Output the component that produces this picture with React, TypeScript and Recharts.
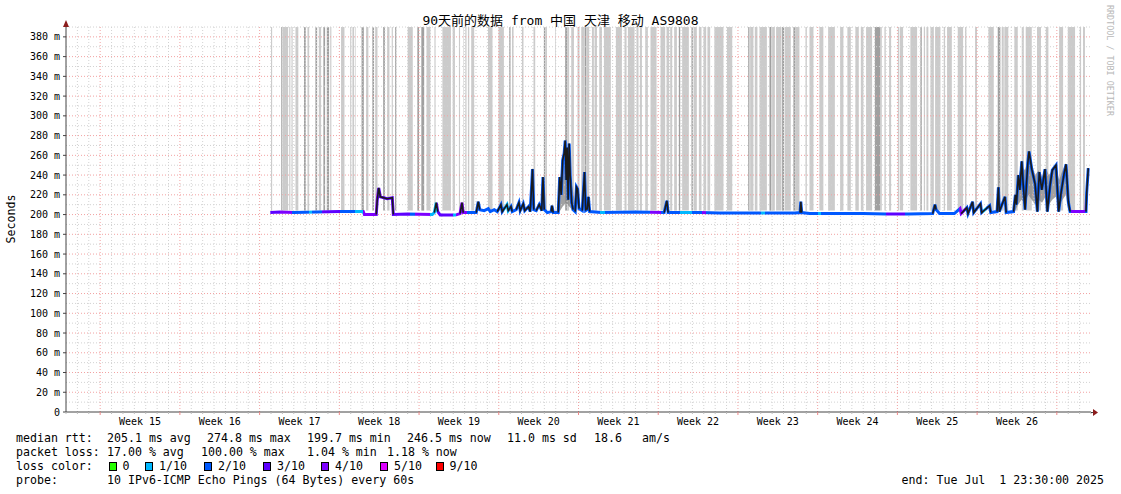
import React from 'react';
import { ComposedChart, Line, Area, XAxis, YAxis, ReferenceLine, ReferenceArea } from 'recharts';

// ---------- data ----------
const TITLE = '90天前的数据 from 中国 天津 移动 AS9808';
const weekLabels = ['Week 15', 'Week 16', 'Week 17', 'Week 18', 'Week 19', 'Week 20', 'Week 21', 'Week 22', 'Week 23', 'Week 24', 'Week 25', 'Week 26'];
const weekStarts = [3, 10, 17, 24, 31, 38, 45, 52, 59, 66, 73, 80, 87];
const yTicks = [0, 20, 40, 60, 80, 100, 120, 140, 160, 180, 200, 220, 240, 260, 280, 300, 320, 340, 360, 380];
const yMinorGrid = [10, 30, 50, 70, 90, 110, 130, 150, 170, 190, 210, 230, 250, 270, 290, 310, 330, 350, 370, 390];

// median rtt (day since start, ms)
const medianPoints: [number, number][] = [
  [17.94, 202], [18.8, 202.5], [20, 202], [22, 202.5], [24, 203], [26.1, 203], [26.2, 200], [27.24, 200],
  [27.33, 215], [27.46, 227], [27.6, 218], [28.2, 216], [28.65, 217], [28.74, 200], [30, 200.5], [32.16, 200],
  [32.34, 202], [32.51, 212], [32.64, 203], [32.86, 199.5], [34.18, 199.5], [34.6, 201], [34.77, 212], [34.88, 202],
  [36.02, 202], [36.2, 213], [36.33, 205], [36.72, 204], [37.08, 206], [37.25, 203], [37.6, 205], [37.87, 203],
  [38.19, 210], [38.3, 203], [38.72, 210], [38.83, 204], [39.07, 208], [39.18, 203], [39.53, 205], [39.77, 212],
  [39.88, 204], [40.15, 211], [40.28, 204], [40.61, 208], [40.76, 203], [40.89, 230], [40.96, 246], [41.07, 205],
  [41.29, 204], [41.55, 210], [41.77, 204], [41.88, 238], [41.99, 205], [42.26, 202], [42.6, 203], [42.67, 209],
  [42.78, 202], [43.22, 202], [43.35, 238], [43.48, 220], [43.61, 255], [43.74, 262], [43.83, 275], [43.92, 235],
  [44.0, 268], [44.09, 215], [44.18, 272], [44.27, 240], [44.4, 212], [44.53, 205], [44.71, 203], [44.82, 228],
  [44.92, 226], [45.05, 206], [45.33, 204], [45.53, 243], [45.63, 204], [45.76, 205], [45.87, 218], [45.98, 203],
  [47, 202], [50, 202.5], [52.52, 202], [52.76, 214], [52.87, 202], [55.7, 202], [57.4, 201.5], [64.0, 201.5],
  [64.45, 202], [64.52, 213], [64.6, 202], [65.3, 201], [70, 201], [72, 200.5], [74, 200.5], [76.1, 201],
  [76.3, 210], [76.4, 205], [76.7, 201], [78.0, 201], [78.5, 206], [78.6, 201], [79.1, 207], [79.2, 201],
  [79.6, 213], [79.7, 202], [80.3, 211], [80.4, 202], [81.1, 209], [81.2, 202], [81.75, 203], [81.87, 227.6],
  [81.95, 203], [82.45, 218], [82.55, 202], [83.2, 203], [83.36, 220], [83.45, 210], [83.62, 240], [83.75, 225],
  [83.92, 254], [84.05, 230], [84.21, 205], [84.33, 230], [84.45, 252], [84.56, 264], [84.8, 246], [85.09, 231],
  [85.29, 203], [85.46, 243], [85.68, 225], [85.96, 246], [86.17, 203], [86.4, 229], [86.6, 245], [86.93, 250],
  [87.16, 203], [87.37, 222], [87.63, 241], [87.81, 251], [88.01, 213], [88.16, 203], [89.56, 203], [89.62, 222],
  [89.76, 247],
];

// smoke (day, low, high)
const smokeA: [number, number, number][] = [
  [43.2, 202, 203], [43.4, 204, 238], [43.6, 208, 250], [43.9, 212, 255], [44.2, 208, 245], [44.5, 204, 225], [44.8, 202, 204],
];
const smokeB: [number, number, number][] = [
  [83.2, 203, 205], [83.3, 203, 212], [83.6, 210, 238], [83.9, 215, 250], [84.2, 212, 245], [84.5, 220, 258],
  [84.8, 215, 250], [85.1, 210, 240], [85.4, 215, 245], [85.7, 212, 238], [86.0, 218, 248], [86.3, 210, 240],
  [86.6, 215, 245], [86.9, 218, 250], [87.2, 210, 235], [87.5, 215, 245], [87.8, 220, 252], [88.0, 205, 225], [88.2, 202, 204],
];

// full-height loss smoke bars (start day, end day, shade 0 light / 1 dark)
const grayBars: [number, number, number][] = [
  [18.0, 18.1, 0], [18.9, 19.0, 1], [19.05, 19.5, 0], [19.6, 19.7, 0], [19.8, 19.9, 0], [20.15, 20.4, 0], [20.9, 21.05, 1],
  [21.2, 21.35, 0], [21.9, 22.05, 1], [22.2, 22.4, 0], [22.6, 22.75, 1], [22.9, 23.1, 1], [23.2, 23.3, 0], [24.15, 24.45, 0],
  [24.95, 25.05, 0], [25.15, 25.3, 0], [25.4, 25.45, 0], [25.95, 26.15, 1], [26.35, 26.55, 0], [26.9, 27.05, 1],
  [27.15, 27.35, 0], [27.85, 28.0, 1], [28.2, 28.4, 0], [28.6, 28.7, 0], [28.9, 29.0, 1], [30.0, 30.45, 0], [30.85, 31.0, 1],
  [31.2, 31.45, 1], [31.65, 32.0, 0], [32.35, 32.45, 0], [33.05, 33.8, 0], [33.95, 34.15, 0], [34.5, 34.6, 0], [34.9, 34.95, 0],
  [35.06, 35.17, 0], [35.29, 35.41, 0], [35.58, 35.84, 0], [37.05, 37.45, 0], [37.98, 38.45, 0], [38.92, 39.03, 1],
  [39.16, 39.3, 0], [40.03, 40.17, 0], [41.05, 41.2, 0], [41.96, 42.08, 1], [42.08, 42.23, 0], [42.96, 43.02, 0],
  [43.83, 44.01, 1], [44.01, 44.18, 0], [44.36, 44.6, 0], [44.91, 45.09, 0], [45.24, 45.48, 0], [45.53, 45.7, 1],
  [45.74, 45.94, 0], [46.18, 46.35, 0], [46.41, 46.62, 0], [46.82, 47.06, 0], [47.23, 47.84, 0], [48.28, 48.81, 0],
  [49.04, 49.22, 0], [49.34, 49.92, 0], [50.09, 50.27, 0], [50.39, 50.57, 0], [50.86, 51.09, 0], [51.32, 51.85, 0],
  [52.2, 52.61, 0], [52.73, 52.96, 0], [53.05, 53.23, 0], [53.4, 53.64, 0], [53.81, 53.93, 1], [54.1, 54.69, 0],
  [54.92, 55.04, 1], [55.1, 55.39, 0], [55.57, 55.8, 0], [55.97, 56.21, 0], [56.32, 56.56, 0], [56.93, 57.73, 0],
  [58.03, 58.5, 0], [59.9, 60.01, 1], [60.07, 60.36, 0], [60.48, 60.71, 0], [60.89, 61.54, 0], [61.77, 61.94, 1],
  [62.0, 62.24, 0], [62.35, 62.82, 0], [62.88, 63.06, 1], [63.12, 63.64, 0], [63.87, 64.05, 1], [64.05, 64.4, 0],
  [64.93, 65.05, 0], [65.28, 65.63, 0], [66.15, 66.5, 0], [66.92, 67.51, 0], [67.97, 68.26, 0], [68.61, 68.91, 0],
  [69.31, 69.61, 0], [69.79, 70.02, 0], [70.25, 70.78, 0], [71.02, 71.48, 1], [71.48, 71.63, 0], [71.86, 71.98, 0],
  [72.27, 72.45, 0], [73.04, 73.15, 0], [73.21, 73.5, 0], [74.14, 74.73, 0], [75.02, 75.14, 1], [75.32, 75.43, 0],
  [75.55, 75.72, 0], [75.9, 76.2, 0], [76.31, 76.78, 0], [77.07, 77.19, 0], [77.36, 77.78, 0], [78.3, 78.77, 0],
  [78.94, 79.06, 0], [79.82, 79.99, 0], [80.99, 81.46, 0], [81.81, 82.04, 1], [82.16, 82.34, 0], [82.39, 82.74, 0],
  [83.27, 83.57, 0], [83.92, 84.1, 0], [84.27, 84.8, 0], [85.26, 85.61, 0], [86.03, 86.26, 0], [87.2, 87.55, 0],
  [87.96, 88.6, 0], [89.01, 89.13, 0], [89.3, 89.47, 0],
];

const lossColors = ['#26ff00', '#00b8ff', '#0059ff', '#5e00ff', '#7e00ff', '#dd00ff', '#ff0000'];
const lossLabels = ['0', '1/10', '2/10', '3/10', '4/10', '5/10', '9/10'];
// loss level along the median line (start day, index in lossColors)
const lossSegments: [number, number][] = [
  [17.9, 3], [18.8, 4], [19.87, 2], [21.3, 1], [21.6, 2], [22.5, 3], [24.1, 2], [25.4, 1], [26.1, 4], [27.3, 3],
  [28.65, 3], [30.2, 2], [30.6, 4], [32.0, 1], [32.6, 3], [34.0, 1], [34.2, 4], [35.2, 2], [36.4, 2], [38.5, 1],
  [38.9, 2], [43.4, 2], [46.0, 2], [46.9, 1], [47.3, 2], [51.3, 4], [52.2, 2], [53.9, 1], [55.0, 2], [55.8, 4],
  [56.2, 2], [61.0, 1], [61.4, 2], [66.0, 1], [66.3, 2], [72.0, 3], [73.7, 2], [78.4, 4], [78.9, 2], [80.5, 1],
  [80.8, 2], [88.2, 4], [89.5, 2],
];

const legendLines: { y: number; items: [string, number][] }[] = [
  { y: 438, items: [['median rtt:', 16], ['205.1 ms avg', 107], ['274.8 ms max', 207], ['199.7 ms min', 307], ['246.5 ms now', 407], ['11.0 ms sd', 507], ['18.6', 594], ['am/s', 642]] },
  { y: 452, items: [['packet loss:', 16], ['17.00 % avg', 107], ['100.00 % max', 201], ['1.04 % min', 307], ['1.18 % now', 387]] },
  { y: 466, items: [['loss color:', 16]] },
  { y: 480, items: [['probe:', 16], ['10 IPv6-ICMP Echo Pings (64 Bytes) every 60s', 107]] },
];
const lossSquareX = [108.5, 145, 204, 263, 321, 380, 435.5];
const END_TEXT = 'end: Tue Jul  1 23:30:00 2025';

// ---------- derived tables ----------
const SPIKE_MIN = 206;
const isSpike = (i: number) => i >= 0 && i < medianPoints.length && medianPoints[i][1] > SPIKE_MIN;
const chartData = medianPoints.map(([day, v]) => ({ day, median: v }));
// dark trace only on segments that touch a spike point; break elsewhere
const spikeData: { day: number; spike: number | null }[] = [];
for (let i = 0; i < medianPoints.length; i++) {
  const [day, v] = medianPoints[i];
  const segPrev = i > 0 && (isSpike(i) || isSpike(i - 1));
  const segNext = i < medianPoints.length - 1 && (isSpike(i) || isSpike(i + 1));
  if (segPrev || segNext) {
    if (!segPrev && spikeData.length > 0) {
      spikeData.push({ day: (medianPoints[i - 1][0] + day) / 2, spike: null });
    }
    spikeData.push({ day, spike: v });
  }
}
const bandFirst = medianPoints[0][0];
const bandLast = medianPoints[medianPoints.length - 1][0];
const smokeAData = smokeA.map(([day, lo, hi]) => ({ day, range: [lo, hi] }));
const smokeBData = smokeB.map(([day, lo, hi]) => ({ day, range: [lo, hi] }));
const weekMids = weekStarts.slice(0, weekLabels.length).map((s) => s + 3.5);
const dayList = Array.from({ length: 91 }, (_, i) => i);
const dayGrid = dayList.filter((d) => d > 0 && d < 90 && !weekStarts.includes(d));
const xTicks = [...dayList, ...weekMids].sort((a, b) => a - b);

const MONO = '"DejaVu Sans Mono", monospace';
const GRID_MINOR = '#d2d2d2';
const GRID_MAJOR = '#f2a2a2';
const AXIS = '#444';
const ARROW = '#8b1c1c';

const clamp01 = (f: number) => Math.max(0, Math.min(1, f));

const XTick = (props: any) => {
  const { x, y, payload } = props;
  const v = payload.value;
  const mi = weekMids.indexOf(v);
  if (mi >= 0) {
    return (
      <text x={x} y={y + 13} textAnchor="middle" fontSize={10} fontFamily={MONO} fill="#000">
        {weekLabels[mi]}
      </text>
    );
  }
  if (weekStarts.includes(v)) return <line x1={x} x2={x} y1={y} y2={y + 3} stroke="#e88" />;
  return <line x1={x} x2={x} y1={y} y2={y + 2} stroke="#bbb" />;
};

export default function App() {
  const span = bandLast - bandFirst;
  const stops: React.ReactNode[] = [];
  lossSegments.forEach(([start, lvl], i) => {
    const end = i + 1 < lossSegments.length ? lossSegments[i + 1][0] : bandLast;
    const c = lossColors[lvl];
    stops.push(<stop key={`a${i}`} offset={clamp01((start - bandFirst) / span)} stopColor={c} />);
    stops.push(<stop key={`b${i}`} offset={clamp01((end - bandFirst) / span)} stopColor={c} />);
  });

  return (
    <div style={{ position: 'absolute', left: 0, top: 0, width: 1121, height: 494, background: '#fff', overflow: 'hidden' }}>
      <ComposedChart width={1121} height={494} data={chartData} margin={{ top: 27, right: 30, bottom: 62, left: 0 }}>
        <defs>
          <linearGradient id="lossGrad" x1="0" y1="0" x2="1" y2="0">
            {stops}
          </linearGradient>
        </defs>
        <XAxis
          type="number"
          dataKey="day"
          domain={[0, 90]}
          allowDataOverflow
          ticks={xTicks}
          interval={0}
          tick={<XTick />}
          tickLine={false}
          tickSize={0}
          tickMargin={0}
          height={20}
          axisLine={{ stroke: AXIS }}
        />
        <YAxis
          type="number"
          domain={[0, 390]}
          allowDataOverflow
          ticks={yTicks}
          interval={0}
          width={66}
          tickSize={3}
          tickMargin={3}
          tickFormatter={(v: number) => (v === 0 ? '0' : `${v} m`)}
          tick={{ fontSize: 10, fontFamily: MONO, fill: '#000' }}
          tickLine={{ stroke: AXIS }}
          axisLine={{ stroke: AXIS }}
        />
        {grayBars.map(([s, e, dark], i) => (
          <ReferenceArea key={`gb${i}`} x1={s} x2={e} y1={204} y2={390} fill={dark ? '#a0a0a0' : '#cbcbcb'} fillOpacity={1} stroke="none" ifOverflow="hidden" />
        ))}
        {yMinorGrid.map((v) => (
          <ReferenceLine key={`hm${v}`} y={v} stroke={GRID_MINOR} strokeDasharray="1 2" />
        ))}
        {yTicks.filter((v) => v > 0).map((v) => (
          <ReferenceLine key={`hM${v}`} y={v} stroke={GRID_MAJOR} strokeDasharray="1 2" />
        ))}
        {dayGrid.map((d) => (
          <ReferenceLine key={`vm${d}`} x={d} stroke={GRID_MINOR} strokeDasharray="1 2" />
        ))}
        {weekStarts.map((d) => (
          <ReferenceLine key={`vM${d}`} x={d} stroke={GRID_MAJOR} strokeDasharray="1 2" />
        ))}
        <Area data={smokeAData} dataKey="range" type="linear" stroke="none" fill="#8a8a8a" fillOpacity={0.8} isAnimationActive={false} />
        <Area data={smokeBData} dataKey="range" type="linear" stroke="none" fill="#8a8a8a" fillOpacity={0.8} isAnimationActive={false} />
        <Line dataKey="median" type="linear" stroke="url(#lossGrad)" strokeWidth={3} dot={false} isAnimationActive={false} />
        <Line data={spikeData} dataKey="spike" type="linear" stroke="#1b1b1b" strokeWidth={1.6} dot={false} isAnimationActive={false} />
      </ComposedChart>

      <svg width={1121} height={494} style={{ position: 'absolute', left: 0, top: 0, pointerEvents: 'none' }}>
        <polygon points="63,27 69,27 66,20" fill={ARROW} />
        <line x1={1091} x2={1094} y1={412.5} y2={412.5} stroke={AXIS} />
        <polygon points="1093,409 1093,416 1098,412.5" fill={ARROW} />
        <text x={11} y={219} transform="rotate(-90 11 219)" textAnchor="middle" dominantBaseline="central" fontSize={11.6} fontFamily={MONO} fill="#000">
          Seconds
        </text>
      </svg>

      <div style={{ position: 'absolute', left: 0, top: 13, width: 1121, textAlign: 'center', fontSize: 13, lineHeight: '16px', fontFamily: '"DejaVu Sans Mono", "Noto Sans CJK SC", monospace', color: '#000', whiteSpace: 'pre' }}>
        {TITLE}
      </div>

      <div style={{ position: 'absolute', left: 1105, top: 5, writingMode: 'vertical-rl', fontSize: 8.4, fontFamily: MONO, color: '#b8b8b8', whiteSpace: 'pre', lineHeight: '10px' }}>
        RRDTOOL / TOBI OETIKER
      </div>

      {legendLines.map((ln) =>
        ln.items.map(([t, x], i) => (
          <div key={`${ln.y}-${i}`} style={{ position: 'absolute', left: x, top: ln.y - 7, fontSize: 11.6, lineHeight: '14px', fontFamily: MONO, color: '#000', whiteSpace: 'pre' }}>
            {t}
          </div>
        ))
      )}
      {lossLabels.map((lab, i) => (
        <React.Fragment key={`lc${i}`}>
          <div style={{ position: 'absolute', left: lossSquareX[i], top: 462, width: 8, height: 9, boxSizing: 'border-box', border: '1px solid #000', background: lossColors[i] }} />
          <div style={{ position: 'absolute', left: lossSquareX[i] + 14, top: 459, fontSize: 11.6, lineHeight: '14px', fontFamily: MONO, color: '#000', whiteSpace: 'pre' }}>
            {lab}
          </div>
        </React.Fragment>
      ))}
      <div style={{ position: 'absolute', right: 1121 - 1104, top: 473, fontSize: 11.6, lineHeight: '14px', fontFamily: MONO, color: '#000', whiteSpace: 'pre' }}>
        {END_TEXT}
      </div>
    </div>
  );
}
